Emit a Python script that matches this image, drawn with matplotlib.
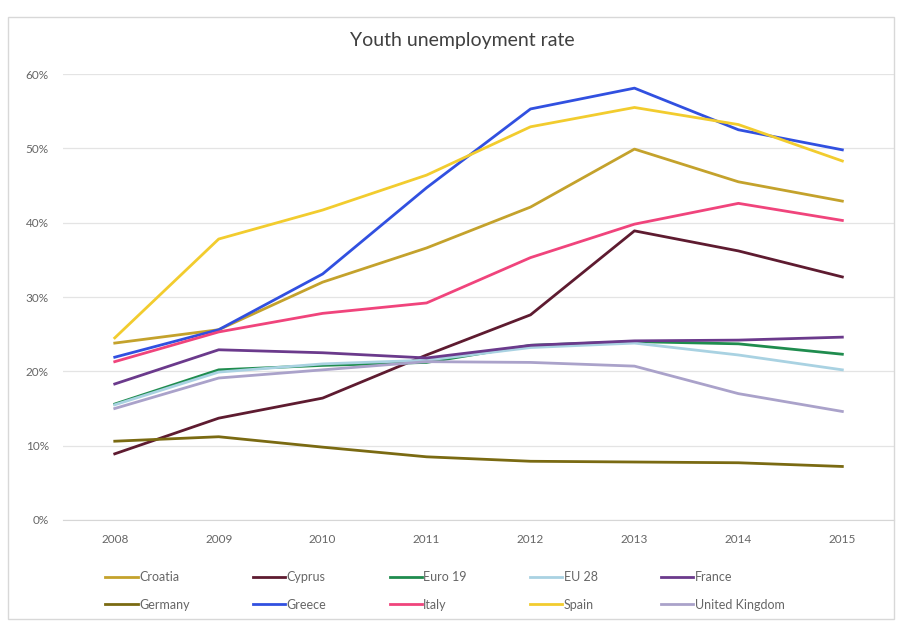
import matplotlib.pyplot as plt
import numpy as np
from matplotlib.patches import Rectangle
from matplotlib.ticker import PercentFormatter

plt.rcParams['font.family'] = ['Lato', 'DejaVu Sans']

years = ['2008', '2009', '2010', '2011', '2012', '2013', '2014', '2015']

croatia = [23.8, 25.6, 32.0, 36.6, 42.1, 49.9, 45.5, 42.9]
cyprus = [8.9, 13.7, 16.4, 22.2, 27.6, 38.9, 36.2, 32.7]
euro19 = [15.6, 20.2, 20.8, 21.2, 23.5, 24.0, 23.7, 22.3]
eu28 = [15.5, 19.9, 21.0, 21.5, 23.2, 23.8, 22.2, 20.2]
france = [18.3, 22.9, 22.5, 21.8, 23.5, 24.1, 24.2, 24.6]
germany = [10.6, 11.2, 9.8, 8.5, 7.9, 7.8, 7.7, 7.2]
greece = [21.9, 25.6, 33.1, 44.7, 55.3, 58.1, 52.5, 49.8]
italy = [21.3, 25.3, 27.8, 29.2, 35.3, 39.8, 42.6, 40.3]
spain = [24.5, 37.8, 41.7, 46.4, 52.9, 55.5, 53.2, 48.3]
uk = [15.0, 19.1, 20.2, 21.3, 21.2, 20.7, 17.0, 14.6]

series = [
    ('Croatia', croatia, '#c4a22c'),
    ('Cyprus', cyprus, '#5e1b30'),
    ('Euro 19', euro19, '#1f8c4e'),
    ('EU 28', eu28, '#a9d2e2'),
    ('France', france, '#6b3a8c'),
    ('Germany', germany, '#7a6a12'),
    ('Greece', greece, '#3150e0'),
    ('Italy', italy, '#f0447c'),
    ('Spain', spain, '#f2cc2e'),
    ('United Kingdom', uk, '#aaa2ca'),
]

fig = plt.figure(figsize=(8.97, 6.22), dpi=100)
ax = fig.add_axes([0.070, 0.164, 0.927, 0.717])

x = np.arange(len(years))
handles = {}
for name, vals, col in series:
    ln, = ax.plot(x, np.array(vals) / 100, color=col, lw=2.0, label=name)
    handles[name] = ln

ax.set_xlim(-0.5, 7.5)
ax.set_ylim(0, 0.6)
ax.set_yticks(np.arange(0, 0.61, 0.1))
ax.yaxis.set_major_formatter(PercentFormatter(1.0, decimals=0))
ax.set_xticks(x)
ax.set_xticklabels(years)
ax.grid(axis='y', color='#e4e4e4', lw=0.9)
ax.set_axisbelow(True)
for s in ['top', 'right', 'left']:
    ax.spines[s].set_visible(False)
ax.spines['bottom'].set_color('#d6d6d6')
ax.tick_params(length=0, colors='#666666', labelsize=8.5, pad=10)

fig.text(0.515, 0.935, 'Youth unemployment rate', ha='center', va='center',
         fontsize=14, color='#404040')

# legend: 2 rows x 5 columns, row-major order like the original
order = ['Croatia', 'Germany', 'Cyprus', 'Greece', 'Euro 19', 'Italy',
         'EU 28', 'Spain', 'France', 'United Kingdom']
leg = fig.legend([handles[n] for n in order], order, ncol=5,
                 loc='center left', bbox_to_anchor=(0.105, 0.05),
                 frameon=False, fontsize=9, handlelength=2.6,
                 handletextpad=0.1, columnspacing=5.05, labelspacing=1.25)
for t in leg.get_texts():
    t.set_color('#666666')

fig.patches.append(Rectangle((0.009, 0.005), 0.988, 0.968, transform=fig.transFigure,
                             fill=False, edgecolor='#d8d8d8', lw=1.0))

fig.savefig('out.png', dpi=100)
